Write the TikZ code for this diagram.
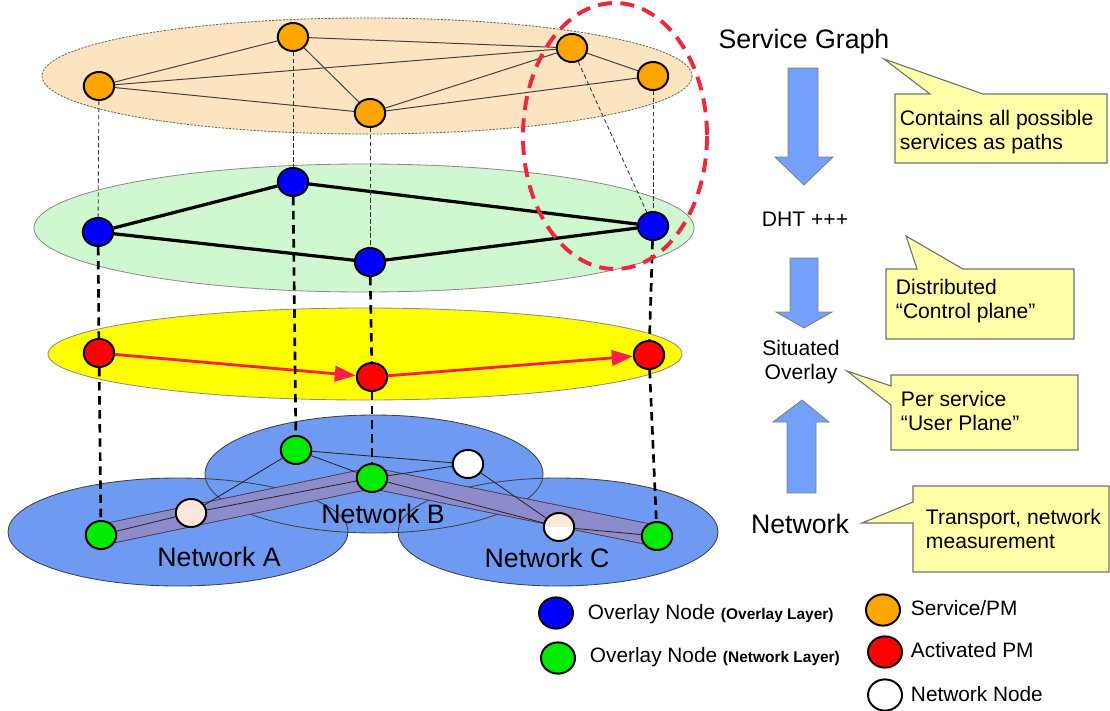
\documentclass[tikz,border=0pt]{standalone}
\usepackage{fontspec}
\setmainfont{Liberation Sans}
\usetikzlibrary{arrows.meta}
\usetikzlibrary{shapes.geometric}

\definecolor{svcbg}{RGB}{252,228,192}
\definecolor{svcnode}{RGB}{255,165,0}
\definecolor{ovlbg}{RGB}{208,248,208}
\definecolor{usrbg}{RGB}{255,255,0}
\definecolor{netbg}{RGB}{110,154,242}
\definecolor{netgreen}{RGB}{0,235,0}
\definecolor{peach}{RGB}{255,232,218}
\definecolor{pathred}{RGB}{250,30,75}
\definecolor{ringred}{RGB}{238,40,60}
\definecolor{tubecol}{RGB}{140,140,205}
\definecolor{tubeedge}{RGB}{70,55,60}
\definecolor{notecol}{RGB}{255,255,170}
\definecolor{bigarrow}{RGB}{115,160,250}

\begin{document}
\begin{tikzpicture}[x=0.025cm, y=-0.025cm,
    pnode/.style={ellipse, draw=black, line width=1.4pt, minimum width=0.76cm, minimum height=0.7cm, inner sep=0pt},
    svc/.style={pnode, fill=svcnode},
    ovl/.style={pnode, fill=blue},
    act/.style={pnode, fill=red},
    nwk/.style={pnode, fill=netgreen},
    hop/.style={pnode, fill=white},
    leg/.style={minimum width=0.85cm, minimum height=0.78cm},
    bigtxt/.style={font=\fontsize{19}{22}\selectfont},
    midtxt/.style={font=\fontsize{15}{17.7}\selectfont, align=center},
    notetxt/.style={font=\fontsize{15}{17.7}\selectfont, align=left, anchor=west},
    keytxt/.style={font=\fontsize{14.8}{17}\selectfont, anchor=west},
    notebox/.style={fill=notecol, draw=black!55, line width=0.8pt},
    bigarr/.style={fill=bigarrow, draw=black!50, line width=0.6pt},
    svcedge/.style={black!75, line width=0.7pt},
    ovledge/.style={black, line width=2.3pt},
    nwkedge/.style={black!85, line width=0.6pt},
    thindash/.style={black!80, line width=0.6pt, dash pattern=on 3pt off 2pt},
    thickdash/.style={black, line width=1.9pt, dash pattern=on 6pt off 4pt},
    hopline/.style={pathred, line width=2pt, -{Triangle[length=15pt, width=11pt]}}]
      \useasboundingbox (0,0) rectangle (1110,710);

      % layers
      \draw [svcbg, fill=svcbg] (367,76) ellipse [x radius=325, y radius=58];
      \draw [black!60, line width=0.6pt, dash pattern=on 1.5pt off 1pt] (367,76) ellipse [x radius=325, y radius=58];
      \draw [black!45, fill=ovlbg, line width=0.6pt] (364,228) ellipse [x radius=330, y radius=64];
      \draw [black!45, fill=usrbg, line width=0.6pt] (365,354) ellipse [x radius=317, y radius=46];
      \fill [netbg] (178,532) ellipse [x radius=170, y radius=54];
      \fill [netbg] (558,532) ellipse [x radius=160, y radius=54];
      \fill [netbg] (374,474) ellipse [x radius=169, y radius=59];
      \draw [black!75, line width=0.6pt] (178,532) ellipse [x radius=170, y radius=54];
      \draw [black!75, line width=0.6pt] (558,532) ellipse [x radius=160, y radius=54];
      \draw [black!75, line width=0.6pt] (374,474) ellipse [x radius=169, y radius=59];

      % path through the network
      \coordinate (pg1) at (101,535);
      \coordinate (pg3) at (372,478);
      \coordinate (pg4) at (657,536);
      \draw [tubeedge, line width=15.4pt] (pg1) -- (pg3) -- (pg4);
      \draw [tubecol, line width=14.2pt] (pg1) -- (pg3) -- (pg4);

      \node [bigtxt] (netA) at (219,557) {Network A};
      \node [bigtxt] (netB) at (383,514) {Network B};
      \node [bigtxt] (netC) at (547,558) {Network C};

      % service graph
      \node [svc] (o1) at (99,86) {};
      \node [svc] (o2) at (293,37) {};
      \node [svc] (o3) at (572,48) {};
      \node [svc] (o4) at (653,76) {};
      \node [svc] (o5) at (370,113) {};
      \draw [svcedge] (o1) -- (o2);
      \draw [svcedge] (o2) -- (o3);
      \draw [svcedge] (o1) -- (o3);
      \draw [svcedge] (o1) -- (o5);
      \draw [svcedge] (o2) -- (o5);
      \draw [svcedge] (o5) -- (o3);
      \draw [svcedge] (o3) -- (o4);
      \draw [svcedge] (o5) -- (o4);

      % overlay
      \node [ovl] (b1) at (98,232) {};
      \node [ovl] (b2) at (293,182) {};
      \node [ovl] (b3) at (653,226) {};
      \node [ovl] (b4) at (370,262) {};
      \draw [ovledge] (b1) -- (b2) -- (b3) -- (b4) -- (b1);

      % situated overlay
      \node [act] (r1) at (99,353) {};
      \node [act] (r2) at (372,377) {};
      \node [act] (r3) at (649,355) {};
      \draw [hopline] (r1) -- (r2);
      \draw [hopline] (r2) -- (r3);

      % network
      \node [nwk] (g1) at (pg1) {};
      \node [nwk] (g2) at (296,450) {};
      \node [nwk] (g3) at (pg3) {};
      \node [nwk] (g4) at (pg4) {};
      \node [hop, fill=peach] (w1) at (191,513) {};
      \node [hop] (w2) at (468,464) {};
      \node [hop, fill=peach, path picture={\fill [white] (path picture bounding box.west) rectangle (path picture bounding box.south east);}] (w3) at (559,527) {};
      \draw [nwkedge] (g1) -- (w1);
      \draw [nwkedge] (w1) -- (g3);
      \draw [nwkedge] (g3) -- (w3);
      \draw [nwkedge] (w3) -- (g4);
      \draw [nwkedge] (g2) -- (w1);
      \draw [nwkedge] (g2) -- (g3);
      \draw [nwkedge] (g2) -- (w2);
      \draw [nwkedge] (g3) -- (w2);
      \draw [nwkedge] (w2) -- (w3);

      % mappings between layers
      \draw [thindash] (o1) -- (b1);
      \draw [thindash] (o2) -- (b2);
      \draw [thindash] (o5) -- (b4);
      \draw [thindash] (o4) -- (b3);
      \draw [thindash] (o3) -- (b3);
      \draw [thickdash] (b1) -- (r1);
      \draw [thickdash] (r1) -- (g1);
      \draw [thickdash] (b2) -- (g2);
      \draw [thickdash] (b4) -- (r2);
      \draw [thickdash] (r2) -- (g3);
      \draw [thickdash] (b3) -- (r3);
      \draw [thickdash] (r3) -- (g4);

      \draw [ringred, line width=2.8pt, dash pattern=on 10pt off 6pt] (615,136) ellipse [x radius=92, y radius=133];

      % right column
      \node [bigtxt] (sg) at (804,42) {Service Graph};
      \node [midtxt] (dht) at (805,219) {DHT +++};
      \node [midtxt] (sit) at (801,362) {Situated\\Overlay};
      \node [bigtxt] (netw) at (800,524) {Network};

      \draw [bigarr] (788,68) -- (818,68) -- (818,157) -- (833,157) -- (804,185) -- (775,157) -- (788,157) -- cycle;
      \draw [bigarr] (790,258) -- (818,258) -- (818,312) -- (832,312) -- (804,328) -- (776,312) -- (790,312) -- cycle;
      \draw [bigarr] (787,493) -- (816,493) -- (816,422) -- (829,422) -- (802,400) -- (773,422) -- (787,422) -- cycle;

      \draw [notebox] (895,94) -- (930,94) -- (884,59) -- (983,94) -- (1107,94) -- (1107,163) -- (895,163) -- cycle;
      \node [notetxt] (n1) at (895,132) {Contains all possible\\services as paths};
      \draw [notebox] (886,269) -- (917,269) -- (906,236) -- (963,269) -- (1074,269) -- (1074,339) -- (886,339) -- cycle;
      \node [notetxt] (n2) at (891,301) {Distributed\\“Control plane”};
      \draw [notebox] (891,375) -- (1078,375) -- (1078,450) -- (891,450) -- (891,405) -- (847,371) -- (891,386) -- cycle;
      \node [notetxt] (n3) at (896,411) {Per service\\“User Plane”};
      \draw [notebox] (913,486) -- (1109,486) -- (1109,572) -- (913,572) -- (913,523) -- (862,523) -- (913,502) -- cycle;
      \node [notetxt] (n4) at (921,529) {Transport, network\\measurement};

      % legend
      \node [ovl, leg] (k1) at (556,613) {};
      \node [keytxt] (k1t) at (583,614) {Overlay Node {\fontsize{11}{13}\selectfont\bfseries (Overlay Layer)}};
      \node [nwk, leg] (k2) at (558,658) {};
      \node [keytxt] (k2t) at (585,657) {Overlay Node {\fontsize{11}{13}\selectfont\bfseries (Network Layer)}};
      \node [svc, leg] (k3) at (883,610) {};
      \node [keytxt] (k3t) at (906,608) {Service/PM};
      \node [act, leg] (k4) at (885,652) {};
      \node [keytxt] (k4t) at (906,650) {Activated PM};
      \node [hop, leg] (k5) at (885,695) {};
      \node [keytxt] (k5t) at (906,694) {Network Node};
\end{tikzpicture}
\end{document}
